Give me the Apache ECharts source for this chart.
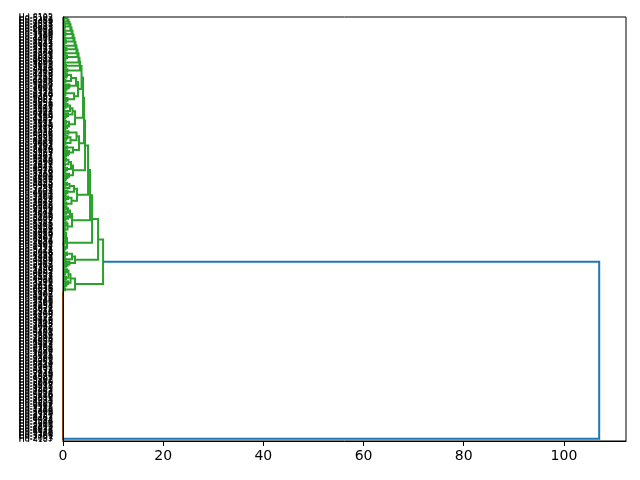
<!DOCTYPE html>
<html><head><meta charset="utf-8">
<script src="https://cdn.jsdelivr.net/npm/echarts@6/dist/echarts.min.js"></script>
<style>html,body{margin:0;padding:0;background:#fff}#c{width:640px;height:480px}</style>
</head><body><div id="c"></div>
<script>
// ---------------- data ----------------
const _ = null; // a leaf
// chain of leaves merged at the listed heights
function g(...hs){ let acc=_; for(const h of hs){ acc=[h, acc, _]; } return acc; }
// stack clusters (first = top) merged downward at the listed heights
function chainUp(clusters, heights){ let acc=clusters[0]; for(let i=1;i<clusters.length;i++){ acc=[heights[i-1], clusters[i], acc]; } return acc; }

const leafIds = [
4187,2093,7751,3306,9120,5548,1872,6634,2419,8805,3971,7260,1548,9034,4462,6187,2751,8320,5093,1406,
7718,3145,9562,2287,6409,4831,1975,8543,3690,5216,9428,2064,7351,4803,1239,6972,3517,8086,2640,5791,
9307,1683,4520,7849,2915,6138,3472,8261,1097,5734,8610,3258,6947,2381,9506,4175,7023,1862,5439,8394,
2706,6251,3984,9173,1520,4687,8045,2398,7562,3819,6104,9451,1736,5280,8927,3062,7415,1198,4853,9640,
3527,8172,1463,6790,2845,9316,5073,1621,7934,4258,2589,8701,3146,6423,9850,1307,5962,2734,8479,4016,
6839,2451,9078,3712,7295,1054,4986,8537,2173,6601,9232,3865,1429,7148,4390,8763,2017,5584,9105,3448,
1956,7487,4239,8016,2668,5321,9774,1137,6485,3902,7629,2254,8891,4567,1783,6350,9013,3286,7802,5129,
8458,3091,6726,1345,9687,2972,5408,8150,3631,7096,1874,4745,9259,2503,6316,8982,1268,5677,3024,7359,
2187,5860,9391,4624,1003,7238,3757,6569,9942,2835,5193,8627,1590,4071,7706,3363,8249,1716,6078,9525,
4941,1227,7673,3598,8364,2116,6892,9797,1381,5557,3203,8918,2476,7184,4702,9661,1043,6263,3838,8535,
5365,9829,2342,6054,1158,7412,4280,8679,3181,5915,1677,9202,4125,7569,2793,6448,3924,8101,1512,5008,
7127,3436,8856,1091,5651,2927,9482,4369,6776,1325,8213,3785,7004,2609,5877,9168,1954,4596,8337,2268,
9715,4413,1780,6163,3659,8426,2551,7033,5298,9896,1201,6614,3099,7871,4935,2360,8744,1493,5733,3177,
8592,2823,6341,1612,9974,4784,7306,3540,1168,5416,8083,2698,6923,4237,9588,1811,7469,3353,5102,8192];
const leafPrefix = 'Hd-';

// bottom cluster: duplicates, all merged at distance 0
const orangeHeights = [
0,0,0,0,0,0,0,0,0,0,0,0,0,0,0,0,0,0,0,0,0,0,0,0,0,0,0,0,0,0,0,0,0,0,0,0,0,0,0,0,0,0,0,0,0,0,0,0,0,
0,0,0,0,0,0,0,0,0,0,0,0,0,0,0,0,0,0,0,0,0,0,0,0,0,0,0,0,0,0,0,0,0,0,0,0,0,0,0,0,0,0,0,0,0,0,0,0,0];

const topTri = chainUp([
  g(0.2), g(0.3), _, g(0.25,0.4), g(0.3), g(0.2,0.5), g(0.4), g(0.3,0.6),
  g(0.2), g(0.35,0.7), g(0.5), g(0.3,0.5,0.8), g(0.4), g(0.3,0.6), g(0.5,0.9)
], [0.9,1.1,1.3,1.5,1.7,1.9,2.1,2.3,2.5,2.7,2.9,3.1,3.3,3.4]);
const M1 = [3.0, [2.2, g(0.3,0.6,0.9), g(0.2,0.4,0.5)], [2.6, g(0.4,0.7,1.1,1.3), [1.6, g(0.3,0.5), g(0.2,0.6,0.8)]]];
const M2 = [2.4, [1.2, g(0.3,0.5,0.8), g(0.4,0.6)], [1.9, g(0.2,0.4,0.7,1.0), [1.4, g(0.3), g(0.2,0.5,0.9)]]];
const M3 = [3.2, [2.0, g(0.3,0.6,1.0,1.2), g(0.4,0.8)], [2.7, [1.5, g(0.2,0.5), g(0.3,0.6,0.9)], g(0.4,1.1)]];
const M4 = [2.0, g(0.2,0.4,0.6,0.9,1.2), [1.6, g(0.3,0.5,0.8), [1.1, g(0.2,0.4), g(0.3,0.6)]]];
const M5 = [2.8, [1.7, g(0.3,0.7), g(0.2,0.5,1.0)], [2.2, g(0.4,0.6,0.9), [1.3, g(0.2), g(0.5,0.8)]]];
const M6 = [1.8, [0.9, g(0.2,0.4), g(0.3,0.5,0.7)], [1.4, g(0.2,0.5,1.0), [1.0, g(0.3,0.6), g(0.2,0.7)]]];
const A1a = chainUp([topTri, M1, M2, M3, M4, M5, M6], [3.7, 4.0, 4.2, 4.4, 5.0, 5.4]);
const A1b = [0.8, g(0.2,0.3,0.5), [0.6, g(0.1,0.3,0.4), g(0.2,0.3,0.5,0.6)]];
const A2  = [2.4, g(0.3,0.6,0.9,1.3), [1.8, g(0.5), g(0.3,0.4,0.8)]];
const B   = [2.4, g(0.4), [1.5, g(0.2,0.5,0.7,1.0), [1.1, g(0.3,0.6), g(0.2,0.4,0.5,0.8)]]];
const A1 = [5.8, A1b, A1a];
const A  = [7.0, A2, A1];
const greenCluster = [8.0, B, A];
const rootHeight = 107.04;

const xTicks = [0, 20, 40, 60, 80, 100];
const palette = ['#ff7f0e', '#2ca02c', '#d62728', '#9467bd'];
const aboveColor = '#1f77b4';

// ---------------- build tree ----------------
let orangeCluster = _;
for (const h of orangeHeights) orangeCluster = [h, _, orangeCluster];
const tree = [rootHeight, orangeCluster, greenCluster];

function maxH(n){ return n===null ? 0 : Math.max(n[0], maxH(n[1]), maxH(n[2])); }
const mh = maxH(tree);
const threshold = 0.7 * mh;

let leafCount = 0, colorIdx = 0;
const linksByColor = {};
function layout(node, col){
  if (node === null){ const y = 10*leafCount + 5; leafCount++; return {y: y, h: 0}; }
  const h = node[0];
  let myCol = col;
  if (h >= threshold) myCol = aboveColor;
  else if (col === aboveColor || col == null) myCol = palette[colorIdx++ % palette.length];
  const L = layout(node[1], myCol), R = layout(node[2], myCol);
  (linksByColor[myCol] = linksByColor[myCol] || []).push({coords: [[L.h, L.y], [h, L.y], [h, R.y], [R.h, R.y]]});
  return {y: (L.y + R.y) / 2, h: h};
}
layout(tree, null);
const n = leafCount;
const labels = leafIds.slice(0, n).map(id => leafPrefix + id);

const series = Object.keys(linksByColor).map(c => ({
  type: 'lines', coordinateSystem: 'cartesian2d', xAxisIndex: 0, yAxisIndex: 1,
  polyline: true, silent: true, z: 2,
  lineStyle: {color: c, width: 2, opacity: 1},
  data: linksByColor[c]
}));

const chart = echarts.init(document.getElementById('c'), null, {renderer: 'canvas'});
chart.setOption({
  animation: false,
  backgroundColor: '#fff',
  grid: {left: 63, right: 14, top: 17, bottom: 39, show: true, borderColor: '#000', borderWidth: 1, z: 5},
  xAxis: {type: 'value', min: 0, max: mh * 1.05, interval: 20, z: 5,
    axisLine: {show: true, onZero: false, lineStyle: {color: '#000', width: 1}},
    axisTick: {show: true, length: 5, lineStyle: {color: '#000', width: 1}, customValues: xTicks},
    axisLabel: {color: '#000', fontSize: 14, fontFamily: 'DejaVu Sans', margin: 8, customValues: xTicks},
    splitLine: {show: false}},
  yAxis: [
    {type: 'category', data: labels, boundaryGap: true, z: 5,
      axisLine: {show: true, lineStyle: {color: '#000', width: 1}},
      axisTick: {show: false},
      axisLabel: {interval: 0, color: '#000', fontSize: 8, fontFamily: 'DejaVu Sans', margin: 10},
      splitLine: {show: false}},
    {type: 'value', min: 0, max: 10 * n, show: false, splitLine: {show: false}}
  ],
  series: series
});
</script></body></html>
